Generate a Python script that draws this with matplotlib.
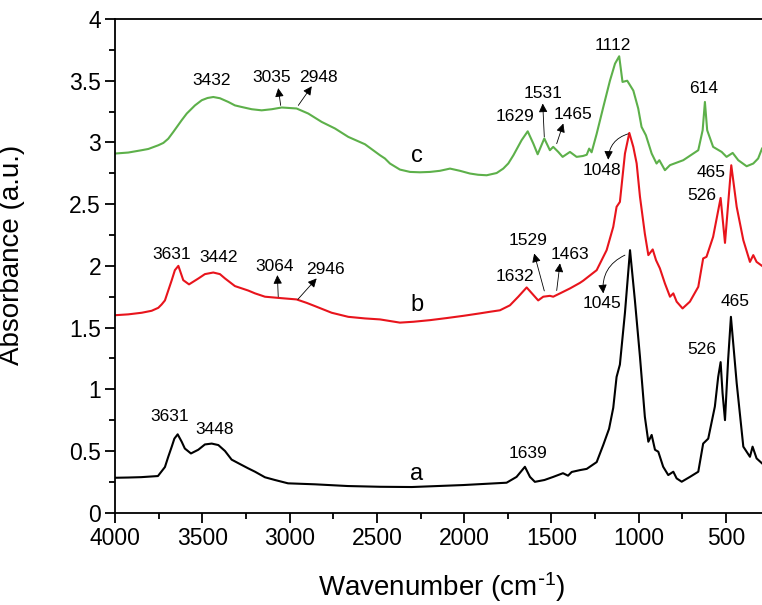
import matplotlib
matplotlib.use("Agg")
import matplotlib.pyplot as plt
from matplotlib.ticker import MultipleLocator, FormatStrFormatter

plt.rcParams['font.family'] = ['Liberation Sans', 'DejaVu Sans']
plt.rcParams['mathtext.default'] = 'regular'

# ---- data ----
wn_a = [4000, 3924, 3850, 3754, 3714, 3695, 3675, 3660, 3641, 3618, 3600, 3565, 3523, 3485,
        3446, 3408, 3370, 3332, 3284, 3238, 3198, 3141, 3084, 3009, 2855, 2666, 2482, 2300,
        2006, 1757, 1700, 1652, 1623, 1595, 1540, 1490, 1434, 1405, 1384, 1337, 1298, 1241,
        1203, 1170, 1146, 1127, 1108, 1079, 1050, 1022, 993, 965, 945, 926, 907, 888, 860,
        831, 802, 783, 754, 707, 659, 631, 602, 564, 545, 531, 520, 506, 488, 472, 439, 401,
        363, 348, 325, 294]
abs_a = [0.283, 0.285, 0.288, 0.297, 0.37, 0.453, 0.535, 0.60, 0.635, 0.575, 0.52, 0.48, 0.51,
         0.553, 0.56, 0.548, 0.50, 0.43, 0.394, 0.36, 0.332, 0.287, 0.265, 0.238, 0.23, 0.216,
         0.21, 0.208, 0.224, 0.243, 0.29, 0.372, 0.29, 0.25, 0.265, 0.29, 0.32, 0.30, 0.33,
         0.345, 0.355, 0.41, 0.55, 0.68, 0.85, 1.1, 1.2, 1.62, 2.127, 1.72, 1.263, 0.777,
         0.575, 0.63, 0.51, 0.494, 0.372, 0.305, 0.332, 0.278, 0.251, 0.29, 0.332, 0.56, 0.60,
         0.86, 1.10, 1.22, 0.97, 0.75, 1.24, 1.587, 1.05, 0.535, 0.453, 0.535, 0.44, 0.40]

wn_b = [4000, 3924, 3847, 3790, 3752, 3733, 3714, 3675, 3657, 3637, 3609, 3576, 3522, 3485,
        3437, 3399, 3370, 3313, 3237, 3198, 3141, 3045, 2960, 2902, 2855, 2759, 2664, 2568,
        2482, 2368, 2291, 2196, 2100, 2005, 1910, 1852, 1795, 1738, 1690, 1642, 1576, 1547,
        1509, 1490, 1451, 1394, 1337, 1318, 1241, 1184, 1146, 1127, 1108, 1079, 1054, 1031,
        1012, 993, 965, 945, 920, 901, 879, 850, 821, 802, 783, 749, 707, 659, 631, 612, 574,
        531, 506, 470, 439, 401, 363, 344, 325, 294]
abs_b = [1.60, 1.607, 1.62, 1.636, 1.66, 1.687, 1.72, 1.884, 1.965, 2.0, 1.884, 1.85, 1.898,
         1.933, 1.946, 1.933, 1.898, 1.836, 1.80, 1.777, 1.75, 1.738, 1.728, 1.70, 1.674, 1.62,
         1.587, 1.574, 1.566, 1.54, 1.547, 1.56, 1.577, 1.595, 1.615, 1.628, 1.64, 1.68, 1.75,
         1.825, 1.72, 1.75, 1.757, 1.75, 1.777, 1.817, 1.862, 1.88, 1.965, 2.127, 2.316, 2.478,
         2.518, 2.91, 3.077, 2.963, 2.83, 2.56, 2.26, 2.087, 2.133, 2.046, 1.98, 1.857, 1.75,
         1.777, 1.71, 1.655, 1.71, 1.83, 2.06, 2.073, 2.235, 2.55, 2.186, 2.815, 2.478, 2.208,
         2.032, 2.087, 2.032, 2.0]

wn_c = [4000, 3924, 3847, 3809, 3752, 3723, 3695, 3666, 3618, 3589, 3542, 3503, 3470, 3437,
        3399, 3351, 3313, 3274, 3217, 3160, 3102, 3045, 2960, 2893, 2816, 2740, 2664, 2568,
        2482, 2454, 2425, 2368, 2310, 2253, 2196, 2139, 2081, 2024, 1967, 1920, 1871, 1814,
        1776, 1747, 1718, 1671, 1636, 1604, 1579, 1541, 1509, 1490, 1461, 1436, 1394, 1356,
        1320, 1298, 1284, 1270, 1241, 1203, 1165, 1136, 1112, 1093, 1066, 1031, 1003, 984,
        959, 926, 898, 882, 850, 821, 745, 659, 634, 621, 608, 574, 525, 497, 462, 430, 382,
        344, 316, 294]
abs_c = [2.91, 2.918, 2.937, 2.947, 2.977, 2.996, 3.03, 3.085, 3.18, 3.234, 3.30, 3.342, 3.36,
         3.368, 3.358, 3.328, 3.30, 3.287, 3.269, 3.26, 3.269, 3.283, 3.275, 3.234, 3.166,
         3.113, 3.045, 2.985, 2.896, 2.87, 2.829, 2.78, 2.761, 2.758, 2.761, 2.77, 2.788, 2.77,
         2.748, 2.738, 2.734, 2.752, 2.788, 2.83, 2.896, 3.018, 3.09, 2.991, 2.904, 3.032,
         2.937, 2.964, 2.923, 2.883, 2.923, 2.883, 2.89, 2.90, 2.95, 2.92, 3.07, 3.287, 3.50,
         3.638, 3.698, 3.49, 3.50, 3.42, 3.275, 3.126, 3.058, 2.91, 2.829, 2.856, 2.775, 2.816,
         2.856, 2.937, 3.099, 3.328, 3.099, 2.964, 2.923, 2.883, 2.915, 2.856, 2.807, 2.829,
         2.87, 2.95]

curve_labels = ['a', 'b', 'c']
curve_label_pos = [(2272, 0.313), (2272, 1.68), (2272, 2.888)]

# peak labels: (text, x, y)
peak_text = [
    ('3631', 3685, 0.777), ('3448', 3427, 0.675), ('1639', 1633, 0.481),
    ('526', 637, 1.325), ('465', 449, 1.71),
    ('3631', 3675, 2.09), ('3442', 3408, 2.065), ('3064', 3088, 1.998), ('2946', 2797, 1.97),
    ('1632', 1709, 1.917), ('1529', 1633, 2.208), ('1463', 1394, 2.095), ('1045', 1213, 1.696),
    ('526', 640, 2.573), ('465', 583, 2.76),
    ('3432', 3444, 3.50), ('3035', 3102, 3.53), ('2948', 2836, 3.526),
    ('1629', 1709, 3.206), ('1531', 1547, 3.396), ('1465', 1375, 3.23),
    ('1112', 1146, 3.787), ('614', 631, 3.436), ('1048', 1213, 2.775),
]
# straight arrows: (tail_x, tail_y, tip_x, tip_y)
straight_arrows = [
    (3051, 3.30, 3065, 3.44), (2950, 3.30, 2873, 3.455),
    (1541, 3.045, 1550, 3.315), (1470, 2.99, 1432, 3.153),
    (3065, 1.75, 3070, 1.925), (2953, 1.728, 2845, 1.898),
    (1541, 1.797, 1599, 2.10), (1470, 1.80, 1451, 2.02),
]
curved_arrows = [
    (1060, 3.07, 1175, 2.86), (1079, 2.087, 1203, 1.777),
]

fig = plt.figure(figsize=(7.62, 6.05), dpi=100)
ax = fig.add_axes([115 / 762, 1 - 512.7 / 605, 1 - 115 / 762, (512.7 - 19) / 605])

ax.plot(wn_a, abs_a, color='black', lw=1.5)
ax.plot(wn_b, abs_b, color='#e8141c', lw=1.5)
ax.plot(wn_c, abs_c, color='#5db04a', lw=1.5)

ax.set_xlim(4000, 294)
ax.set_ylim(0, 4)

for (t, x, y) in peak_text:
    ax.text(x, y, t, fontsize=12.5, ha='center', va='center', color='black')
for t, (x, y) in zip(curve_labels, curve_label_pos):
    ax.text(x, y, t, fontsize=17, ha='center', va='center', color='black')

for (x0, y0, x1, y1) in straight_arrows:
    ax.annotate('', xy=(x1, y1), xytext=(x0, y0),
                arrowprops=dict(arrowstyle='-|>', color='black', lw=0.6,
                                mutation_scale=13, shrinkA=0, shrinkB=0))
for (x0, y0, x1, y1) in curved_arrows:
    ax.annotate('', xy=(x1, y1), xytext=(x0, y0),
                arrowprops=dict(arrowstyle='-|>', color='black', lw=0.6,
                                mutation_scale=13, shrinkA=0, shrinkB=0,
                                connectionstyle='arc3,rad=0.35'))

ax.xaxis.set_major_locator(MultipleLocator(500))
ax.xaxis.set_minor_locator(MultipleLocator(250))
ax.yaxis.set_major_locator(MultipleLocator(0.5))
ax.yaxis.set_minor_locator(MultipleLocator(0.25))
ax.yaxis.set_major_formatter(FormatStrFormatter('%g'))
ax.tick_params(axis='both', which='major', direction='out', length=7, width=1.3,
               labelsize=16.5, pad=3)
ax.tick_params(axis='both', which='minor', direction='out', length=4, width=1.3)
ax.tick_params(top=False, right=False)

for s in ['left', 'bottom', 'top']:
    ax.spines[s].set_linewidth(1.3)
ax.spines['right'].set_visible(False)

ax.set_xlabel(r'Wavenumber (cm$^{\text{-}1}$)', fontsize=20)
ax.set_ylabel('Absorbance (a.u.)', fontsize=20)
ax.xaxis.label.set_va('center')
ax.xaxis.set_label_coords(0.505, -0.15)
ax.yaxis.set_label_coords(-0.139, 0.522)

fig.savefig('out.png', dpi=100)
